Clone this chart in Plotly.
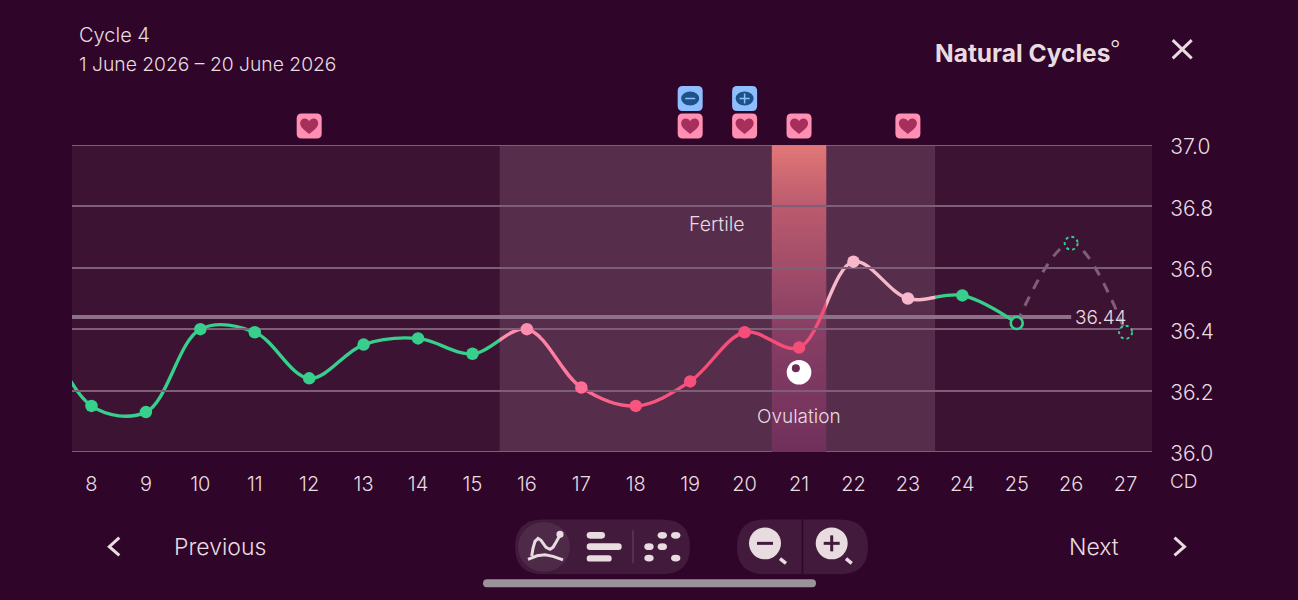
import plotly.graph_objects as go

# Temperature log for the cycle (cycle day, degrees C)
days = [7, 8, 9, 10, 11, 12, 13, 14, 15, 16, 17, 18, 19, 20, 21, 22, 23, 24, 25]
temps = [36.47, 36.15, 36.13, 36.40, 36.39, 36.24, 36.35, 36.37, 36.32, 36.40,
         36.21, 36.15, 36.23, 36.39, 36.34, 36.62, 36.50, 36.51, 36.42]
point_colors = ["#36D08C"] * 9 + ["#FF8DB0", "#FF6C95", "#F9547F", "#F6507B", "#F54E78",
                                  "#F54E78", "#F6B8CA", "#F6B8CA", "#36D08C"]
predicted_days = [25, 26, 27]
predicted_temps = [36.42, 36.68, 36.39]
cover_line = 36.44
cover_line_days = [7, 26]

tick_days = list(range(8, 28))
temp_ticks = [36.0, 36.2, 36.4, 36.6, 36.8, 37.0]

fertile_window = (15.5, 23.5)
ovulation_window = (20.5, 21.5)
ovulation_day = 21
heart_days = [12, 19, 20, 21, 23]
test_marks = [(19, "minus"), (20, "plus")]

# Stops of the ovulation band, temperature to colour
ovulation_stops = [(37.0, (224, 118, 118)), (36.8, (186, 90, 110)),
                   (36.4, (135, 62, 100)), (36.0, (112, 48, 92))]

# Line colour per stretch of the cycle
line_stretches = [(7.642, 15.5, "#36D08C"),
                  (15.5, 15.75, "#FF90B2"), (15.75, 16.0, "#FF8DB0"), (16.0, 16.25, "#FF88AB"),
                  (16.25, 16.5, "#FF82A6"), (16.5, 16.75, "#FF7AA0"), (16.75, 17.0, "#FF719A"),
                  (17.0, 17.25, "#FE6A93"), (17.25, 17.5, "#FC648D"), (17.5, 17.75, "#FB5E88"),
                  (17.75, 18.0, "#FA5A84"), (18.0, 18.5, "#F95580"), (18.5, 19.0, "#F7527D"),
                  (19.0, 21.5, "#F54E78"), (21.5, 23.5, "#F6B8CA"), (23.5, 27.485, "#36D08C")]

PAGE = "#2F0529"
PLOT = "#3D1333"
FERTILE = "#572D4C"
GRID = "#7F5E78"
INK = "#E8DCE0"
PILL = "#421A3C"
X0, X1 = 7.642, 27.485


def px(x):
    return (x - 72) / 1080


def py(y):
    return (452.5 - y) / 307.5


def ink_line(pts, color=INK, width=3):
    path = "M" + " L".join(f"{px(x):.5f},{py(y):.5f}" for x, y in pts)
    return dict(type="path", path=path, xref="paper", yref="paper",
                line=dict(color=color, width=width), layer="above")


def rounded(x0, y0, x1, y1, r, color, layer="above"):
    a, b, c, d = x0, x1, y0, y1
    seq = [("M", a + r, c), ("L", b - r, c), ("Q", b, c, b, c + r), ("L", b, d - r), ("Q", b, d, b - r, d),
           ("L", a + r, d), ("Q", a, d, a, d - r), ("L", a, c + r), ("Q", a, c, a + r, c)]
    parts = []
    for s in seq:
        coords = s[1:]
        pairs = [f"{px(coords[i]):.5f},{py(coords[i + 1]):.5f}" for i in range(0, len(coords), 2)]
        parts.append(s[0] + " ".join(pairs))
    return dict(type="path", path=" ".join(parts) + " Z", xref="paper", yref="paper",
                fillcolor=color, line=dict(width=0), layer=layer)


def disc(cx, cy, rx, ry, color):
    return dict(type="circle", xref="paper", yref="paper", x0=px(cx - rx), x1=px(cx + rx),
                y0=py(cy + ry), y1=py(cy - ry), fillcolor=color, line=dict(width=0), layer="above")


def anchored_path(day, path, color, width=0, stroke=None):
    return dict(type="path", path=path, xref="x", yref="paper", xsizemode="pixel", ysizemode="pixel",
                xanchor=day, yanchor=1, fillcolor=color,
                line=dict(width=width, color=stroke or color), layer="above")


def shift_path(cmds, dy):
    out = []
    for cmd in cmds:
        head, coords = cmd[0], cmd[1:]
        pairs = [f"{coords[i]},{coords[i + 1] + dy}" for i in range(0, len(coords), 2)]
        out.append(head + " ".join(pairs))
    return " ".join(out)


def badge_cmds(h=12.5, r=5):
    return [("M", -h + r, h), ("L", h - r, h), ("Q", h, h, h, h - r), ("L", h, -h + r), ("Q", h, -h, h - r, -h),
            ("L", -h + r, -h), ("Q", -h, -h, -h, -h + r), ("L", -h, h - r), ("Q", -h, h, -h + r, h), ("Z",)]


HEART = [("M", 0, -8), ("C", -4, -4.5, -9, -1.5, -9, 2.5), ("C", -9, 6.5, -6, 7.5, -4.5, 7.5),
         ("C", -2.5, 7.5, -1, 6.5, 0, 4.8), ("C", 1, 6.5, 2.5, 7.5, 4.5, 7.5),
         ("C", 6, 7.5, 9, 6.5, 9, 2.5), ("C", 9, -1.5, 4, -4.5, 0, -8), ("Z",)]

shapes = [
    dict(type="rect", xref="paper", yref="paper", x0=0, x1=1, y0=0, y1=1, fillcolor=PLOT,
         line=dict(width=0), layer="below"),
    dict(type="rect", xref="x", yref="paper", x0=fertile_window[0], x1=fertile_window[1], y0=0, y1=1,
         fillcolor=FERTILE, line=dict(width=0), layer="below"),
]

# The ovulation band fades from salmon at the top into plum at the bottom
slices = 70
for k in range(slices):
    top = 37.0 - k / slices
    bottom = 37.0 - (k + 1.2) / slices
    for (t0, c0), (t1, c1) in zip(ovulation_stops, ovulation_stops[1:]):
        if t1 <= top <= t0:
            f = (t0 - top) / (t0 - t1)
            rgb = tuple(round(a + (b - a) * f) for a, b in zip(c0, c1))
            break
    shapes.append(dict(type="rect", xref="x", yref="y", x0=ovulation_window[0], x1=ovulation_window[1],
                       y0=max(bottom, 36.0), y1=top, fillcolor=f"rgb{rgb}", line=dict(width=0), layer="below"))

# The axis drops gridlines at the ends of its range, so the frame lines are added here
for t in (temp_ticks[0], temp_ticks[-1]):
    shapes.append(dict(type="line", xref="paper", yref="y", x0=0, x1=1, y0=t, y1=t,
                       line=dict(color=GRID, width=2), layer="below"))

# Event badges above the plot
for d in heart_days:
    shapes.append(anchored_path(d, shift_path(badge_cmds(), 19), "#FF8FB3"))
    shapes.append(anchored_path(d, shift_path(HEART, 19), "#A62F5B"))

for d, kind in test_marks:
    shapes.append(anchored_path(d, shift_path(badge_cmds(), 46.5), "#8FBEFF"))
    shapes.append(dict(type="circle", xref="x", yref="paper", xsizemode="pixel", ysizemode="pixel",
                       xanchor=d, yanchor=1, x0=-9, x1=9, y0=39.5, y1=53.5, fillcolor="#1C5288",
                       line=dict(width=0), layer="above"))
    bar = "M-5,46.5 L5,46.5" if kind == "minus" else "M-5,46.5 L5,46.5 M0,41.5 L0,51.5"
    shapes.append(anchored_path(d, bar, "rgba(0,0,0,0)", width=1.5, stroke="#8FBEFF"))

# Ovulation egg under the marker of that day
egg_temp = 36.26
shapes.append(dict(type="circle", xref="x", yref="y", xsizemode="pixel", ysizemode="pixel",
                   xanchor=ovulation_day, yanchor=egg_temp, x0=-12.3, x1=12.3, y0=-12.3, y1=12.3,
                   fillcolor="#FFFFFF", line=dict(width=0), layer="above"))
shapes.append(dict(type="circle", xref="x", yref="y", xsizemode="pixel", ysizemode="pixel",
                   xanchor=ovulation_day, yanchor=egg_temp, x0=-7.2, x1=0.8, y0=0, y1=8,
                   fillcolor="#6E2A55", line=dict(width=0), layer="above"))

# Forecast days drawn as dotted rings
for d, t in zip(predicted_days[1:], predicted_temps[1:]):
    shapes.append(dict(type="circle", xref="x", yref="y", xsizemode="pixel", ysizemode="pixel",
                       xanchor=d, yanchor=t, x0=-6.5, x1=6.5, y0=-6.5, y1=6.5, fillcolor=PLOT,
                       line=dict(color="#36D08C", width=1.9, dash="3px,3px"), layer="above"))

# Bottom navigation
shapes += [
    rounded(515, 520, 690, 575, 27.5, PILL),
    disc(544, 547.5, 26, 25, "#4E2A48"),
    rounded(737, 520, 868, 575, 27.5, PILL),
    ink_line([(633, 531), (633, 564)], "#5A3A55", 1.5),
    ink_line([(802.5, 520), (802.5, 575)], PAGE, 1.5),
    rounded(483, 580, 816, 588, 4, "#9A939A"),
    rounded(586.7, 532.7, 605, 539.3, 3.3, INK),
    rounded(586.7, 544, 621.7, 550.7, 3.3, INK),
    rounded(586.7, 556, 611.7, 562.3, 3.2, INK),
    disc(560, 535, 3.6, 3.6, INK),
    disc(765, 544, 16, 16, INK),
    disc(831.7, 544, 16, 16, INK),
    ink_line([(757, 544), (773, 544)], PILL, 3),
    ink_line([(823.7, 544), (839.7, 544)], PILL, 3),
    ink_line([(831.7, 536), (831.7, 552)], PILL, 3),
    ink_line([(780, 559.3), (786, 564)], INK, 3.5),
    ink_line([(846, 559.3), (851.7, 564)], INK, 3.5),
    ink_line([(119.3, 538.3), (109.3, 547.3), (119.3, 556)]),
    ink_line([(1174.5, 538.3), (1184.5, 547.3), (1174.5, 556)]),
    ink_line([(1172.7, 40), (1191.7, 58.3)]),
    ink_line([(1191.7, 40), (1172.7, 58.3)]),
    ink_line([(528, 560), (537, 556.5), (545, 555.5), (553, 557), (563, 560.5)]),
    ink_line([(531.7, 556.7), (533, 549), (535, 542), (538, 539), (541, 541), (546, 548), (550, 550),
              (553, 548), (556, 543), (560, 536)]),
]
for cx, cy in [(662.3, 536), (675.7, 536), (649, 547.3), (662.3, 547.3), (649, 558.7), (675.7, 558.7)]:
    shapes.append(disc(cx, cy, 4.7, 3.4, INK))

fig = go.Figure()

# Forecast curve and cover line sit on the primary axes, beneath the logged line
fig.add_trace(go.Scatter(x=cover_line_days, y=[cover_line, cover_line], mode="lines",
                         line=dict(color="#8F7089", width=4), hoverinfo="skip"))
fig.add_trace(go.Scatter(x=predicted_days, y=predicted_temps, mode="lines",
                         line=dict(color="#7F5F78", width=3, dash="10px,9px", shape="spline", smoothing=1.0),
                         hoverinfo="skip"))

# One clipped copy of the same spline per colour stretch, each on its own narrow x axis
axes = {}
span = X1 - X0
for i, (a, b, color) in enumerate(line_stretches, start=2):
    b2 = min(b + 0.01, X1)
    axes[f"xaxis{i}"] = dict(domain=[(a - X0) / span, (b2 - X0) / span], range=[a, b2], visible=False,
                             anchor="y", fixedrange=True)
    fig.add_trace(go.Scatter(x=days, y=temps, xaxis=f"x{i}", yaxis="y", mode="lines",
                             line=dict(color=color, width=3.4, shape="spline", smoothing=1.0),
                             hoverinfo="skip"))

# Day markers go on a last full-width axis so they stay above the line
top_id = len(line_stretches) + 2
axes[f"xaxis{top_id}"] = dict(domain=[0, 1], range=[X0, X1], visible=False, anchor="y", fixedrange=True)
for color in dict.fromkeys(point_colors):
    chosen = [i for i, c in enumerate(point_colors) if c == color]
    fig.add_trace(go.Scatter(x=[days[i] for i in chosen], y=[temps[i] for i in chosen],
                             xaxis=f"x{top_id}", yaxis="y", mode="markers",
                             marker=dict(size=12.5, color=color), hoverinfo="skip"))
fig.add_trace(go.Scatter(x=days[-1:], y=temps[-1:], xaxis=f"x{top_id}", yaxis="y", mode="markers",
                         marker=dict(size=12, color=PLOT, line=dict(color="#36D08C", width=2.6)),
                         hoverinfo="skip"))

FONT = "Inter"
LIGHT = 300


def label(text, x, y, size=19, anchor="center", color=INK, family=FONT, xref="paper", yref="paper",
          yshift=0, weight=LIGHT):
    return dict(text=text, x=x, y=y, xref=xref, yref=yref, xanchor=anchor, yanchor="middle", showarrow=False,
                font=dict(family=family, size=size, color=color, weight=weight), yshift=yshift)


annotations = [
    label("Cycle 4", px(77), py(35), anchor="left", size=20),
    label("1 June 2026 – 20 June 2026", px(77), py(64), anchor="left", size=19.3),
    label("Natural Cycles", px(933), py(53), anchor="left", size=24.5, weight=700),
    label("°", px(1108), py(49), anchor="left", size=23),
    label("Fertile", 19.5, 36.74, size=19.5, xref="x", yref="y", yshift=1),
    label("Ovulation", ovulation_day, 36.12, size=19, xref="x", yref="y", yshift=-1),
    label(f"{cover_line:.2f}", 26.54, cover_line, size=19, xref="x", yref="y", yshift=-1),
    label("CD", px(1168), py(482), anchor="left", size=19),
    label("Previous", px(172), py(548), anchor="left", size=23),
    label("Next", px(1121), py(548), anchor="right", size=23),
]

fig.update_layout(
    width=1298, height=600, margin=dict(l=72, r=146, t=145, b=147.5, autoexpand=False),
    paper_bgcolor=PAGE, plot_bgcolor="rgba(0,0,0,0)", showlegend=False,
    font=dict(family=FONT, color=INK, size=19),
    xaxis=dict(range=[X0, X1], tickmode="array", tickvals=tick_days, ticktext=[str(d) for d in tick_days],
               showgrid=False, zeroline=False, showline=False, ticks="outside", ticklen=14,
               tickcolor="rgba(0,0,0,0)", tickfont=dict(size=20, color=INK, weight=LIGHT), fixedrange=True),
    yaxis=dict(range=[36.0, 37.0], side="right", tickmode="array", tickvals=temp_ticks,
               ticktext=[f"{t:.1f}" for t in temp_ticks], showgrid=True, gridcolor=GRID, gridwidth=2,
               zeroline=False, showline=False, ticks="outside", ticklen=13, tickcolor="rgba(0,0,0,0)",
               tickfont=dict(size=21, color=INK, weight=LIGHT), ticklabelshift=2, fixedrange=True),
    shapes=shapes, annotations=annotations, **axes,
)

fig.write_html("out.html", config={"displayModeBar": False})
